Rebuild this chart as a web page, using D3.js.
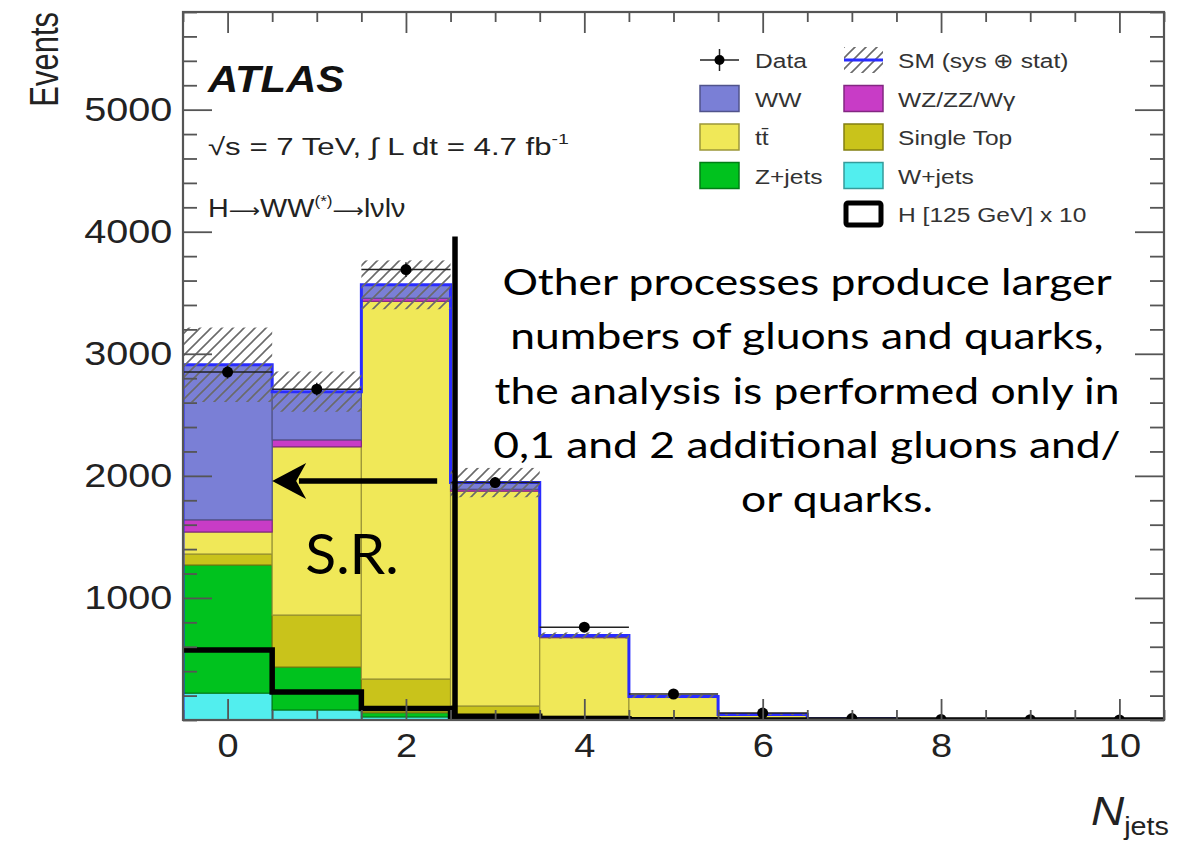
<!DOCTYPE html>
<html><head><meta charset="utf-8">
<script src="https://cdn.jsdelivr.net/npm/d3@7"></script>
<style>body{margin:0;background:#fff} svg{display:block}</style>
</head><body>
<svg id="chart" width="1190" height="842"></svg>
<script>
// ---------- data ----------
const categories = [0,1,2,3,4,5,6,7,8,9,10];
const wjets      = [220, 82, 25, 5, 2, 1, 0, 0, 0, 0, 0];
const zjets      = [1050, 352, 35, 10, 3, 1, 0, 0, 0, 0, 0];
const singleTop  = [90, 426, 276, 100, 30, 8, 2, 0.5, 0, 0, 0];
const ttbar      = [180, 1378, 3094, 1760, 640, 175, 40, 9, 2, 0.5, 0.2];
const dibosonWZ  = [100, 57, 25, 15, 5, 2, 1, 0, 0, 0, 0];
const ww         = [1270, 395, 110, 55, 12, 5, 2, 0.5, 0, 0, 0];
const higgsX10   = [574, 230, 95, 30, 10, 3, 1, 0.3, 0.1, 0, 0];
const dataValues = [2850, 2710, 3690, 1945, 760, 213, 57, 12, 4, 2, 1];
const smError    = [305, 165, 200, 120, 25, 12, 4, 1, 0, 0, 0];
const yTickLabels = ["1000","2000","3000","4000","5000"];
const xTickLabels = ["0","2","4","6","8","10"];
const seriesNames  = ["W+jets","Z+jets","Single Top","tt̄","WZ/ZZ/Wγ","WW"];
const seriesColors = ["#52eeee","#00c21e","#c9c31b","#f0e858","#c83cc6","#7a7fd6"];
const annotationLines = ["Other processes produce larger","numbers of gluons and quarks,","the analysis is performed only in","0,1 and 2 additional gluons and/","or quarks."];

// ---------- setup ----------
const svg = d3.select("#chart");
const SX = 1.15;              // horizontal stretch of ROOT text
const rootFont = "'Liberation Sans', Arial, Helvetica, sans-serif";
const pL = 183, pR = 1164, pT = 12, pB = 720;
const x = d3.scaleLinear().domain([-0.5, 10.5]).range([pL, pR]);
const y = d3.scaleLinear().domain([0, 5800]).range([pB, pT]);

const defs = svg.append("defs");
const pat = defs.append("pattern").attr("id","hatch").attr("patternUnits","userSpaceOnUse")
  .attr("width",11).attr("height",11);
pat.append("path").attr("d","M-3,14 L14,-3 M-3,3 L3,-3 M8,14 L14,8")
  .attr("stroke","#6a6a6a").attr("stroke-width",1.6);
defs.append("clipPath").attr("id","plotclip").append("rect")
  .attr("x",pL).attr("y",pT).attr("width",pR-pL).attr("height",pB-pT);

const plot = svg.append("g").attr("clip-path","url(#plotclip)");

// ---------- stacked histogram ----------
const rows = categories.map((c,i)=>({bin:c, s0:wjets[i], s1:zjets[i], s2:singleTop[i], s3:ttbar[i], s4:dibosonWZ[i], s5:ww[i]}));
const keys = ["s0","s1","s2","s3","s4","s5"];
const stacked = d3.stack().keys(keys)(rows);
stacked.forEach((layer,li)=>{
  const col = seriesColors[li];
  plot.append("g").selectAll("rect").data(layer).join("rect")
    .attr("x", d=>x(d.data.bin-0.5))
    .attr("width", d=>x(d.data.bin+0.5)-x(d.data.bin-0.5))
    .attr("y", d=>y(d[1]))
    .attr("height", d=>Math.max(0, y(d[0])-y(d[1])))
    .attr("fill", col)
    .attr("stroke", d3.color(col).darker(1.2))
    .attr("stroke-width", 1.2);
});
const totals = categories.map((c,i)=>keys.reduce((a,k)=>a+rows[i][k],0));

// SM outline (blue)
const stepPts = [];
categories.forEach((c,i)=>{ stepPts.push([c-0.5, totals[i]]); stepPts.push([c+0.5, totals[i]]); });
const stepLine = d3.line().x(d=>x(d[0])).y(d=>y(d[1]));
plot.append("path").attr("d", stepLine([[-0.5,0]].concat(stepPts).concat([[10.5,0]])))
  .attr("fill","none").attr("stroke","#2a2cff").attr("stroke-width",3);

// hatched uncertainty band
plot.append("g").selectAll("rect").data(categories).join("rect")
  .attr("x", c=>x(c-0.5)).attr("width", c=>x(c+0.5)-x(c-0.5))
  .attr("y", (c,i)=>y(totals[i]+smError[i]))
  .attr("height", (c,i)=>y(totals[i]-smError[i])-y(totals[i]+smError[i]))
  .attr("fill","url(#hatch)");

// Higgs x10 outline
const hPts = [];
categories.forEach((c,i)=>{ hPts.push([c-0.5, higgsX10[i]]); hPts.push([c+0.5, higgsX10[i]]); });
plot.append("path").attr("d", stepLine(hPts))
  .attr("fill","none").attr("stroke","#000").attr("stroke-width",5.5).attr("stroke-linejoin","miter");

// data points
const dg = plot.append("g");
categories.forEach((c,i)=>{
  const v = dataValues[i], e = Math.sqrt(v);
  dg.append("line").attr("x1",x(c-0.5)).attr("x2",x(c+0.5)).attr("y1",y(v)).attr("y2",y(v))
    .attr("stroke","#222").attr("stroke-width",1.5);
  dg.append("line").attr("x1",x(c)).attr("x2",x(c)).attr("y1",y(v+e)).attr("y2",y(Math.max(0,v-e)))
    .attr("stroke","#222").attr("stroke-width",1.5);
  dg.append("circle").attr("cx",x(c)).attr("cy",y(v)).attr("r",5.5).attr("fill","#000");
});

// ---------- axes ----------
const axG = svg.append("g");
const yMajor = yTickLabels.map(Number);
const yMinor = d3.range(0, 5801, 200).filter(v=>!yMajor.includes(v));
const xMajor = xTickLabels.map(Number);
const xMinor = d3.range(-0.5, 10.51, 0.5).filter(v=>!xMajor.includes(v));

function styleAxis(g){ g.select(".domain").remove(); g.selectAll("line").attr("stroke","#555").attr("stroke-width",1.8); }

// left
axG.append("g").attr("transform",`translate(${pL},0)`)
  .call(d3.axisLeft(y).tickValues(yMajor).tickSizeInner(-29).tickSizeOuter(0).tickPadding(9).tickFormat(d3.format("d")))
  .call(styleAxis)
  .call(g=>g.selectAll("text").attr("font-family",rootFont).attr("font-size",33).attr("fill","#222")
      .attr("transform",`scale(1.2,1)`));
axG.append("g").attr("transform",`translate(${pL},0)`)
  .call(d3.axisLeft(y).tickValues(yMinor).tickSizeInner(-14).tickSizeOuter(0).tickFormat(""))
  .call(styleAxis);
// right
axG.append("g").attr("transform",`translate(${pR},0)`)
  .call(d3.axisRight(y).tickValues(yMajor).tickSizeInner(-29).tickSizeOuter(0).tickFormat(""))
  .call(styleAxis);
axG.append("g").attr("transform",`translate(${pR},0)`)
  .call(d3.axisRight(y).tickValues(yMinor).tickSizeInner(-14).tickSizeOuter(0).tickFormat(""))
  .call(styleAxis);
// bottom
axG.append("g").attr("transform",`translate(0,${pB})`)
  .call(d3.axisBottom(x).tickValues(xMajor).tickSizeInner(-21).tickSizeOuter(0).tickPadding(14).tickFormat((d,i)=>xTickLabels[i]))
  .call(styleAxis)
  .call(g=>g.selectAll("text").attr("font-family",rootFont).attr("font-size",33).attr("fill","#222")
      .attr("transform",`scale(${SX},1)`));
axG.append("g").attr("transform",`translate(0,${pB})`)
  .call(d3.axisBottom(x).tickValues(xMinor).tickSizeInner(-10).tickSizeOuter(0).tickFormat(""))
  .call(styleAxis);
// top
axG.append("g").attr("transform",`translate(0,${pT})`)
  .call(d3.axisTop(x).tickValues(xMajor).tickSizeInner(-21).tickSizeOuter(0).tickFormat(""))
  .call(styleAxis);
axG.append("g").attr("transform",`translate(0,${pT})`)
  .call(d3.axisTop(x).tickValues(xMinor).tickSizeInner(-10).tickSizeOuter(0).tickFormat(""))
  .call(styleAxis);
// frame
svg.append("rect").attr("x",pL).attr("y",pT).attr("width",pR-pL).attr("height",pB-pT)
  .attr("fill","none").attr("stroke","#555").attr("stroke-width",2.2);

// axis titles
svg.append("text").attr("transform",`translate(58,12) rotate(-90) scale(1,1.32)`)
  .attr("text-anchor","end").attr("font-family",rootFont).attr("font-size",31).attr("fill","#222").text("Events");
const nj = svg.append("text").attr("transform",`translate(1091,825) scale(${SX},1)`)
  .attr("font-family",rootFont).attr("fill","#222");
nj.append("tspan").attr("font-size",40).attr("font-style","italic").text("N");
nj.append("tspan").attr("font-size",25).attr("dy",10).text("jets");

// ---------- ATLAS labels ----------
function rtext(xp, yp, size, sx){ return svg.append("text").attr("transform",`translate(${xp},${yp}) scale(${sx||SX},1)`)
  .attr("font-family",rootFont).attr("font-size",size).attr("fill","#222"); }
rtext(208, 92, 37, 1.13).attr("font-weight","bold").attr("font-style","italic").attr("fill","#111").text("ATLAS");
const t2 = rtext(208, 155, 24, 1.3);
t2.append("tspan").text("√s = 7 TeV, ∫ L dt = 4.7 fb");
t2.append("tspan").attr("font-size",15).attr("dy",-11).text("-1");
const t3 = rtext(208, 217, 25, 1.15);
t3.append("tspan").text("H");
t3.append("tspan").attr("font-family","'DejaVu Sans'").attr("font-size",19).text("⟶");
t3.append("tspan").text("WW");
t3.append("tspan").attr("font-size",15).attr("dy",-11).text("(*)");
t3.append("tspan").attr("dy",11).attr("font-family","'DejaVu Sans'").attr("font-size",19).text("⟶");
t3.append("tspan").text("lνlν");

// ---------- legend ----------
const lg = svg.append("g");
const rowY = [60, 98.5, 137, 175.5, 214];
const col1 = 700, col2 = 844, bw = 39, bh = 26;
// Data entry
lg.append("line").attr("x1",col1).attr("x2",col1+bw).attr("y1",rowY[0]).attr("y2",rowY[0]).attr("stroke","#222").attr("stroke-width",1.5);
lg.append("line").attr("x1",col1+bw/2).attr("x2",col1+bw/2).attr("y1",rowY[0]-11).attr("y2",rowY[0]+11).attr("stroke","#222").attr("stroke-width",1.5);
lg.append("circle").attr("cx",col1+bw/2).attr("cy",rowY[0]).attr("r",5).attr("fill","#000");
// SM entry
lg.append("rect").attr("x",col2).attr("y",rowY[0]-bh/2).attr("width",bw).attr("height",bh).attr("fill","url(#hatch)");
lg.append("line").attr("x1",col2).attr("x2",col2+bw).attr("y1",rowY[0]).attr("y2",rowY[0]).attr("stroke","#2a2cff").attr("stroke-width",3);
// filled entries: WW, ttbar, Z+jets in col1; WZ, single top, W+jets in col2
const legendEntries = [
  {si:5, cx:col1, r:1}, {si:3, cx:col1, r:2}, {si:1, cx:col1, r:3},
  {si:4, cx:col2, r:1}, {si:2, cx:col2, r:2}, {si:0, cx:col2, r:3}
];
legendEntries.forEach(e=>{
  const col = seriesColors[e.si];
  lg.append("rect").attr("x",e.cx).attr("y",rowY[e.r]-bh/2).attr("width",bw).attr("height",bh)
    .attr("fill",col).attr("stroke",d3.color(col).darker(1.2)).attr("stroke-width",1.5);
});
// Higgs entry
lg.append("rect").attr("x",col2+2).attr("y",rowY[4]-bh/2+2).attr("width",bw-4).attr("height",bh-4)
  .attr("fill","#fff").attr("stroke","#000").attr("stroke-width",5).attr("rx",2);
// labels
function ltext(xp, r){ return svg.append("text").attr("transform",`translate(${xp},${rowY[r]+8}) scale(1.17,1)`)
  .attr("font-family",rootFont).attr("font-size",21).attr("fill","#333"); }
ltext(755,0).text("Data");
ltext(755,1).text(seriesNames[5]);
ltext(755,2).text(seriesNames[3]);
ltext(755,3).text(seriesNames[1]);
ltext(898,0).text("SM (sys ⊕ stat)");
ltext(898,1).text(seriesNames[4]);
ltext(898,2).text(seriesNames[2]);
ltext(898,3).text(seriesNames[0]);
ltext(898,4).text("H [125 GeV] x 10");

// ---------- annotations ----------
const ann = svg.append("g");
ann.append("line").attr("x1",x(2.55)).attr("x2",x(2.55)).attr("y1",y(3960)).attr("y2",y(15))
  .attr("stroke","#000").attr("stroke-width",5.5);
ann.append("line").attr("x1",x(2.35)).attr("x2",x(0.8)).attr("y1",y(1958)).attr("y2",y(1958))
  .attr("stroke","#000").attr("stroke-width",5.5);
const tipX = x(0.5), tipY = y(1958);
ann.append("path").attr("d",`M${tipX},${tipY} L${tipX+34},${tipY-18} L${tipX+24},${tipY} L${tipX+34},${tipY+18} Z`).attr("fill","#000");
ann.append("text").attr("x",352).attr("y",574).attr("text-anchor","middle")
  .attr("font-family","Lato, 'Open Sans', sans-serif").attr("font-size",57).attr("fill","#000").text("S.R.");
annotationLines.forEach((s,i)=>{
  ann.append("text").attr("transform",`translate(${807 + (i===4?30:0)},${295+i*54.3}) scale(1.2,1)`)
    .attr("font-family","Lato, 'Open Sans', sans-serif").attr("font-size",37)
    .attr("text-anchor","middle").attr("fill","#000").text(s);
});
</script>
</body></html>
